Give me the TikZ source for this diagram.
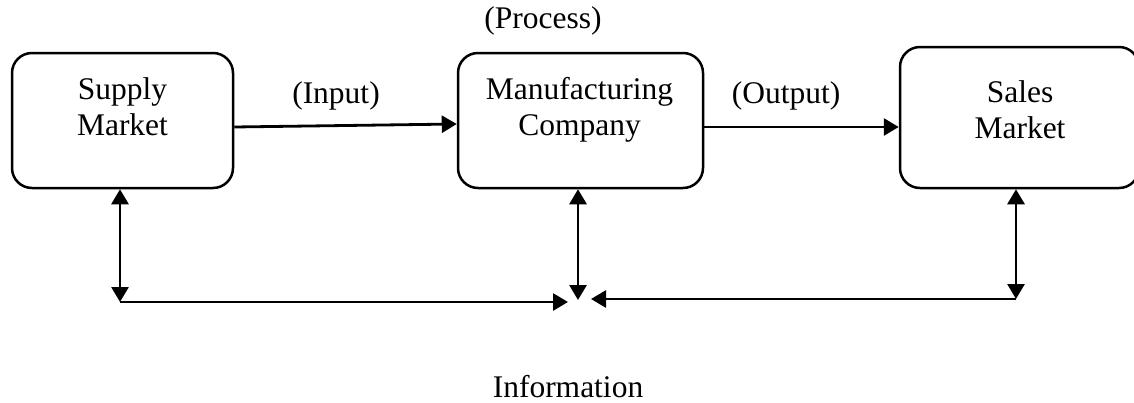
\documentclass[tikz,border=0pt]{standalone}
\usepackage{fontspec}
\setmainfont{Liberation Serif}
\usetikzlibrary{arrows.meta}
\tikzset{
  stage/.style={draw, line width=2.5pt, rounded corners=20pt, inner sep=0pt},
  lbl/.style={font=\fontsize{31.5}{36}\selectfont, align=center, inner sep=0pt},
  flow/.style={line width=2.8pt, -{Triangle[length=15pt,width=17pt]}},
  both/.style={line width=2.8pt, {Triangle[length=15pt,width=17pt]}-{Triangle[length=15pt,width=17pt]}}
}
\begin{document}
\begin{tikzpicture}[x=1pt,y=-1pt]
\useasboundingbox (0,0) rectangle (1134,402);

% the three stages
\node[stage, minimum width=221pt, minimum height=135pt] (sup) at (122.5,120.5) {};
\node[stage, minimum width=245pt, minimum height=135pt] (man) at (580.5,120.5) {};
\node[stage, minimum width=239pt, minimum height=141pt] (sal) at (1019.5,117.5) {};

\node[lbl] (suptext) at (122.5,107) {Supply\\Market};
\node[lbl] (mantext) at (579.5,110) {Manufacturing\\Company};
\node[lbl] (saltext) at (1020,110) {Sales\\Market};

% labels of the flows
\node[lbl, anchor=base] (process) at (543,28) {(Process)};
\node[lbl, anchor=base] (input) at (336,103) {(Input)};
\node[lbl, anchor=base] (output) at (786,103) {(Output)};
\node[lbl, anchor=base] (info) at (568,397) {Information};

% material flow
\draw[flow] ([yshift=-6.5pt]sup.east) -- ([yshift=-3.5pt]man.west);
\draw[flow] ([yshift=-6.5pt]man.east) -- ([yshift=-9.5pt]sal.west);

% information exchange
\coordinate (sl) at (120,302);
\coordinate (hl) at (568,302);
\coordinate (hub) at (578,300);
\coordinate (hr) at (591,299);
\coordinate (sr) at (1016,299);

\draw[both] ([xshift=-2.5pt]sup.south) -- (sl);
\draw[both] ([xshift=-2.5pt]man.south) -- (hub);
\draw[both] ([xshift=-3.5pt]sal.south) -- (sr);
\draw[flow] (sl) -- (hl);
\draw[flow] (sr) -- (hr);
\end{tikzpicture}
\end{document}
